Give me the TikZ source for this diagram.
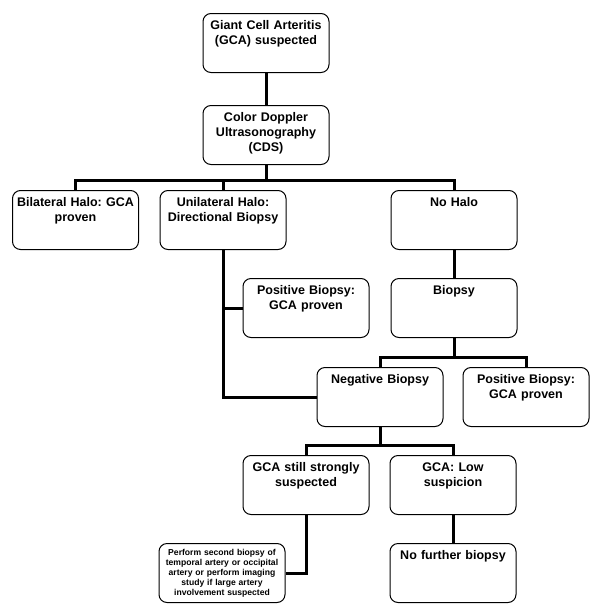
\documentclass[tikz,border=0pt]{standalone}
\usepackage{fontspec}
\setmainfont{Liberation Sans}
\usepackage{tikz}
\frenchspacing

\begin{document}
\begin{tikzpicture}[x=1pt, y=-1pt,
    box/.style={draw, line width=1pt, rounded corners=8pt, anchor=north,
        text width=120pt, align=center, inner xsep=3pt, inner ysep=0pt,
        text height=15.5pt, text depth=43.5pt,
        font=\bfseries\fontsize{12.5}{15}\selectfont},
    smallbox/.style={box, text height=12pt, text depth=47pt,
        font=\bfseries\fontsize{8.6}{10}\selectfont},
    link/.style={line width=3pt}
]
    \useasboundingbox (0,0) rectangle (600,611);

    \node[box] (suspected) at (266,13) {Giant Cell Arteritis\\(GCA) suspected};
    \node[box] (cds) at (266,105) {Color Doppler\\Ultrasonography\\(CDS)};

    \node[box] (bilateral) at (75.5,190) {Bilateral Halo: GCA\\proven};
    \node[box] (unilateral) at (223,190) {Unilateral Halo:\\Directional Biopsy};
    \node[box] (nohalo) at (454,190) {No Halo};

    \node[box] (positive1) at (306,278) {Positive Biopsy:\\GCA proven};
    \node[box] (biopsy) at (454,278) {Biopsy};

    \node[box] (negative) at (380,367) {Negative Biopsy};
    \node[box] (positive2) at (526,367) {Positive Biopsy:\\GCA proven};

    \node[box] (strong) at (306,455) {GCA still strongly\\suspected};
    \node[box] (low) at (453,455) {GCA: Low\\suspicion};

    \node[smallbox] (second) at (222,543)
        {Perform second biopsy of\\temporal artery or occipital\\artery or perform imaging\\study if large artery\\involvement suspected};
    \node[box] (nofurther) at (453,543) {No further biopsy};

    % connectors
    \draw[link] (suspected.south) -- (cds.north);
    \draw[link] (cds.south) -- ++(0,15) coordinate (split1);
    \draw[link] (bilateral.north) |- (split1) -| (nohalo.north);
    \draw[link] (unilateral.north) -- (unilateral.north |- split1);

    \draw[link] (unilateral.south) |- (negative.west);
    \draw[link] (unilateral.south |- positive1.west) -- (positive1.west);
    \draw[link] (nohalo.south) -- (biopsy.north);

    \draw[link] (biopsy.south) -- ++(0,19) coordinate (split2);
    \draw[link] (negative.north) |- (split2) -| (positive2.north);

    \draw[link] (negative.south) -- ++(0,18) coordinate (split3);
    \draw[link] (strong.north) |- (split3) -| (low.north);

    \draw[link] (strong.south) |- (second.east);
    \draw[link] (low.south) -- (nofurther.north);
\end{tikzpicture}
\end{document}
